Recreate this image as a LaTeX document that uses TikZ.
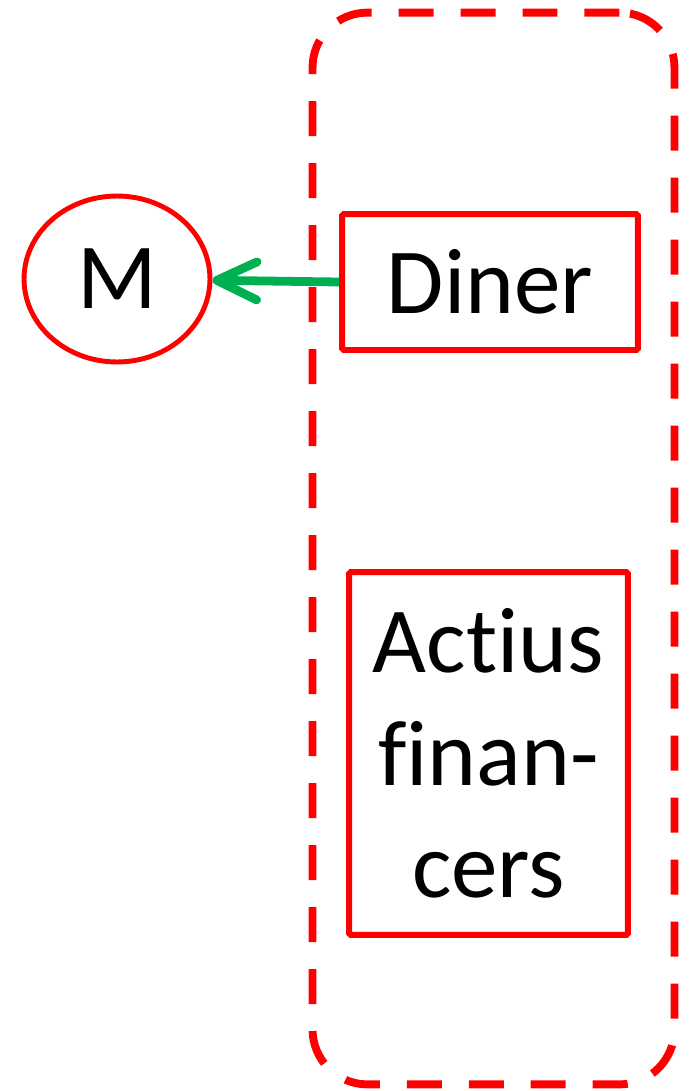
\documentclass[tikz,border=0pt]{standalone}
\usepackage{fontspec}
\setmainfont[Ligatures={NoCommon,NoRare}]{Carlito}
\usepackage{xcolor}
\usetikzlibrary{shapes.geometric,arrows.meta,shadows}
\definecolor{boxred}{RGB}{255,0,0}
\definecolor{arrowgreen}{RGB}{0,176,80}
\tikzset{
 txt/.style={font=\fontsize{53}{64}\selectfont, text=black},
 redbox/.style={txt, draw=boxred, line width=3.4pt, fill=white, align=center, inner sep=0pt,
   rounded corners=1pt, drop shadow={opacity=0.25, shadow xshift=1.5pt, shadow yshift=-1.5pt}},
}
\begin{document}
\begin{tikzpicture}[x=0.02cm,y=-0.02cm]
\useasboundingbox (0,0) rectangle (691,1091);

\node(4) at(493.5,548.5)[draw=boxred, line width=4.5pt, dash pattern=on 0.7cm off 0.54cm,
  rounded corners=1.1cm, minimum width=7.24cm, minimum height=21.44cm]{};
\node(1) at(117,279)[txt, ellipse, draw=boxred, line width=2.8pt, inner sep=0pt,
  minimum width=3.72cm, minimum height=3.32cm]{M};
\node(2) at(490,282)[redbox, minimum width=5.92cm, minimum height=2.72cm]{Diner};
\node(3) at(488.5,753.5)[redbox, minimum width=5.58cm, minimum height=7.26cm]{Actius\\finan-\\cers};
\draw [arrowgreen, line width=5pt, -{Straight Barb[length=0.8cm, width=0.76cm, round]}](2.west)--(1);
\end{tikzpicture}
\end{document}
